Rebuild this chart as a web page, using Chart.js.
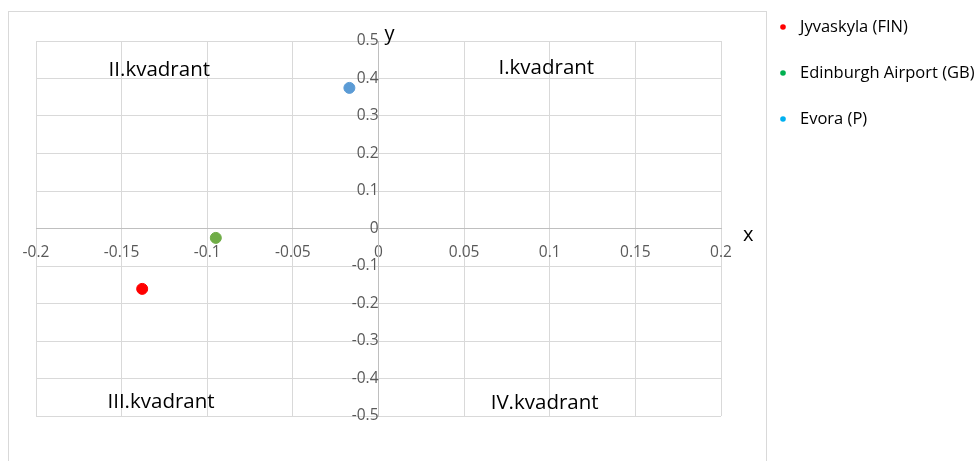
<!DOCTYPE html>
<html>
<head>
<meta charset="utf-8">
<script src="https://cdn.jsdelivr.net/npm/chart.js@4"></script>
<style>
  html, body { margin: 0; padding: 0; background: #fff; }
  #wrap { position: relative; width: 978px; height: 461px; }
</style>
</head>
<body>
<div id="wrap"><canvas id="myChart" width="978" height="461"></canvas></div>
<script>
// values
const seriesNames = ['Jyvaskyla (FIN)', 'Edinburgh Airport (GB)', 'Evora (P)'];
const xValues = [-0.138, -0.095, -0.017];
const yValues = [-0.161, -0.025, 0.375];

const xTicks = [-0.2, -0.15, -0.1, -0.05, 0, 0.05, 0.1, 0.15, 0.2];
const yTicks = [-0.5, -0.4, -0.3, -0.2, -0.1, 0, 0.1, 0.2, 0.3, 0.4, 0.5];

const quadrantNames = ['I.kvadrant', 'II.kvadrant', 'III.kvadrant', 'IV.kvadrant'];
const quadrantX = [0.098, -0.128, -0.127, 0.097];
const quadrantY = [0.428, 0.423, -0.463, -0.465];

const pointColors = ['#FF0000', '#70AD47', '#5B9BD5'];
const legendColors = ['#FF0000', '#00B050', '#00B0F0'];
const FONT = '"Open Sans", sans-serif';

const frame = {
  id: 'frame',
  beforeDraw(chart) {
    const c = chart.ctx;
    c.save();
    c.strokeStyle = '#d9d9d9';
    c.lineWidth = 1;
    c.strokeRect(8.5, 11.5, 758, 470);
    c.restore();
  }
};

const labels = {
  id: 'labels',
  afterDraw(chart) {
    const c = chart.ctx;
    const xs = chart.scales.x, ys = chart.scales.y;
    const area = chart.chartArea;
    c.save();
    c.fillStyle = '#000';
    c.textAlign = 'center';
    c.textBaseline = 'middle';
    c.font = '20.5px ' + FONT;
    quadrantNames.forEach((t, i) => {
      c.fillText(t, xs.getPixelForValue(quadrantX[i]), ys.getPixelForValue(quadrantY[i]));
    });
    // axis titles
    c.font = '20px ' + FONT;
    c.textAlign = 'left';
    c.fillText('y', xs.getPixelForValue(0) + 6, area.top - 7);
    c.fillText('x', area.right + 22, ys.getPixelForValue(0) + 7);
    // legend
    c.font = '16.5px ' + FONT;
    seriesNames.forEach((t, i) => {
      const y = 27 + i * 46;
      c.fillStyle = legendColors[i];
      c.beginPath();
      c.arc(783, y, 2.8, 0, Math.PI * 2);
      c.fill();
      c.fillStyle = '#000';
      c.fillText(t, 800, y);
    });
    c.restore();
  }
};

const fmt = v => String(Math.round(v * 100) / 100);
const noPad = s => { s.paddingLeft = 0; s.paddingRight = 0; s.paddingTop = 0; s.paddingBottom = 0; };

const ctx = document.getElementById('myChart');
const myChart = new Chart(ctx, {
  type: 'scatter',
  data: {
    datasets: seriesNames.map((name, i) => ({
      label: name,
      data: [{ x: xValues[i], y: yValues[i] }],
      backgroundColor: pointColors[i],
      borderColor: pointColors[i],
      pointRadius: 5.5,
      pointHoverRadius: 5.5
    }))
  },
  options: {
    responsive: false,
    animation: false,
    layout: { padding: { left: 36, top: 41, right: 257, bottom: 45 } },
    plugins: {
      legend: { display: false },
      tooltip: { enabled: false }
    },
    scales: {
      x: {
        type: 'linear',
        min: xTicks[0],
        max: xTicks[xTicks.length - 1],
        position: { y: 0 },
        afterFit: noPad,
        afterBuildTicks: s => { s.ticks = xTicks.map(v => ({ value: v })); },
        grid: { color: '#d9d9d9', drawTicks: false },
        border: { color: '#bfbfbf' },
        ticks: { color: '#595959', font: { family: FONT, size: 15.5 }, padding: 15, callback: fmt, maxRotation: 0 }
      },
      y: {
        type: 'linear',
        min: yTicks[0],
        max: yTicks[yTicks.length - 1],
        position: { x: 0 },
        afterFit: noPad,
        afterBuildTicks: s => { s.ticks = yTicks.map(v => ({ value: v })); },
        grid: { color: '#d9d9d9', drawTicks: false },
        border: { color: '#bfbfbf' },
        ticks: { color: '#595959', font: { family: FONT, size: 15.5 }, padding: 18, callback: fmt }
      }
    }
  },
  plugins: [frame, labels]
});
</script>
</body>
</html>
